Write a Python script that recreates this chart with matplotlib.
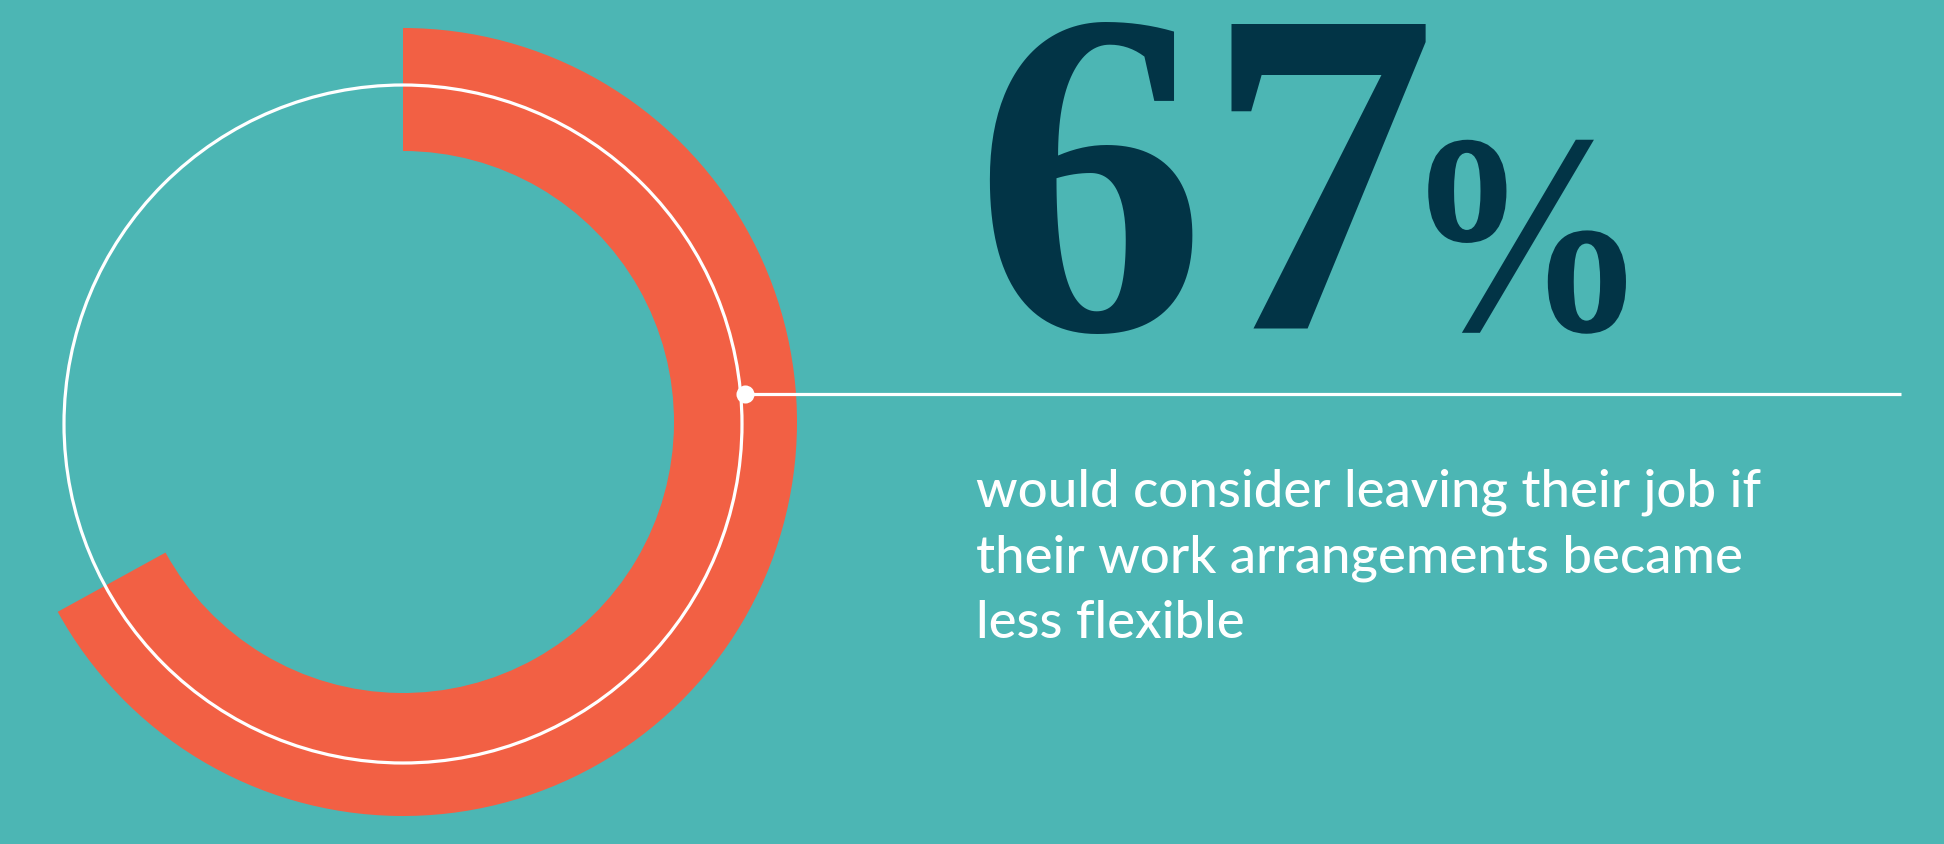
import matplotlib
matplotlib.use("Agg")
import matplotlib.pyplot as plt
from matplotlib.patches import Circle
from matplotlib.patheffects import AbstractPathEffect
from matplotlib.transforms import Affine2D

# ---- data ----
share_pct = 67
values = [share_pct, 100 - share_pct]
caption_lines = [
    "would consider leaving their job if",
    "their work arrangements became",
    "less flexible",
]

# ---- style ----
BG = "#4CB6B4"
ORANGE = "#F26044"
NAVY = "#023446"
WHITE = "#FFFFFF"

W, H = 1944, 844


class HScale(AbstractPathEffect):
    """Horizontally scale the glyphs about a fixed x (display pixels)."""
    def __init__(self, sx, x0):
        super().__init__()
        self.sx = sx
        self.x0 = x0

    def draw_path(self, renderer, gc, tpath, affine, rgbFace=None):
        t = affine + Affine2D().translate(-self.x0, 0).scale(self.sx, 1).translate(self.x0, 0)
        renderer.draw_path(gc, tpath, t, rgbFace)


fig = plt.figure(figsize=(W / 100, H / 100), dpi=100, facecolor=BG)
ax = fig.add_axes([0, 0, 1, 1])
ax.set_facecolor(BG)

cx, cy = 403, 422
r_out, r_in = 394, 271

ax.pie(values, startangle=90, counterclock=False, radius=r_out, center=(cx, cy),
       colors=[ORANGE, "none"], wedgeprops=dict(width=r_out - r_in, linewidth=0))

ax.set_xlim(0, W)
ax.set_ylim(0, H)
ax.set_aspect("equal")
ax.axis("off")

# white thin circle
ax.add_patch(Circle((cx, cy - 2), 339, fill=False, edgecolor=WHITE, linewidth=2.3, zorder=3))

# leader line with dot
ax.plot([745, 1901], [450, 450], color=WHITE, linewidth=2.3, solid_capstyle="butt", zorder=3)
ax.plot([745], [450], marker="o", markersize=13, color=WHITE, markeredgewidth=0, zorder=4)

# big number
ax.text(973, 515, f"{share_pct}", fontsize=334, fontfamily="Liberation Serif",
        fontweight="bold", color=NAVY, ha="left", va="baseline")
pct_x = 1403
pct_x0_px = ax.transData.transform((pct_x, 0))[0]
ax.text(pct_x, 514, "%", fontsize=206, fontfamily="Liberation Serif",
        fontweight="bold", color=NAVY, ha="left", va="baseline",
        path_effects=[HScale(0.86, pct_x0_px)])

# caption
baselines = [338, 272, 206]
for line, yb in zip(caption_lines, baselines):
    ax.text(976, yb, line, fontsize=38, fontfamily="Lato", fontweight="medium",
            color=WHITE, ha="left", va="baseline")

fig.savefig("out.png", dpi=100, facecolor=BG)
